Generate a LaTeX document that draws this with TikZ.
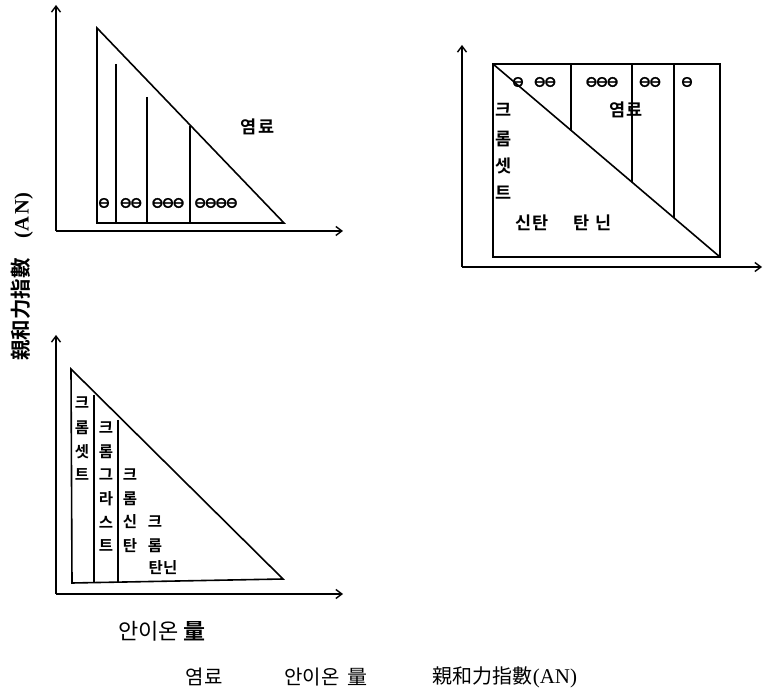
\documentclass[tikz,border=0pt]{standalone}
\usepackage{fontspec}
\setmainfont{Liberation Serif}
\newfontfamily\kr{Noto Sans CJK KR}
\newfontfamily\krb{Noto Sans CJK KR Bold}
\newfontfamily\symf{DejaVu Sans}[FakeBold=1.5]
\usetikzlibrary{arrows.meta}
\begin{document}
\begin{tikzpicture}[x=1pt,y=-1pt,
  axis/.style={-{Straight Barb[length=6pt,width=9pt]}, line width=1.4pt},
  tri/.style={line width=1.6pt, line join=miter},
  sep/.style={line width=1.4pt},
  ion/.style={font=\symf\bfseries\fontsize{15}{15}\selectfont, inner sep=0pt},
  kl/.style={font=\krb\fontsize{17.5}{17.5}\selectfont, inner sep=0pt},
  ks/.style={font=\krb\fontsize{15.5}{15.5}\selectfont, inner sep=0pt},
  captext/.style={font=\kr\fontsize{20}{20}\selectfont, inner sep=0pt}]
\useasboundingbox (0,0) rectangle (764,692);

% ---------- panel 1 (top left)
\draw[axis] (56,231) -- (56,5);
\draw[axis] (56,231) -- (343,231);
\draw[tri] (97,28) -- (97,223) -- (284,223) -- cycle;
\draw[sep] (116,64) -- (116,223);
\draw[sep] (147,97) -- (147,223);
\draw[sep] (190,126) -- (190,223);
\node[ion] (a1) at (104,203) {⊖};
\node[ion] (a2) at (131,203) {⊖\hspace{-2pt}⊖};
\node[ion] (a3) at (168,203) {⊖\hspace{-2pt}⊖\hspace{-2pt}⊖};
\node[ion] (a4) at (216,203) {⊖\hspace{-2pt}⊖\hspace{-2pt}⊖\hspace{-2pt}⊖};
\node[kl] (dye1) at (258,127) {염\hspace{2pt}료};

% ---------- y label
\node[rotate=90, font=\krb\fontsize{20.5}{20.5}\selectfont, inner sep=0pt] (ylab) at (22,277) {親和力指數\hspace{20pt}{\rmfamily\bfseries (A\hspace{2pt}N)}};

% ---------- panel 2 (top right)
\draw[axis] (462,267) -- (462,45);
\draw[axis] (462,267) -- (762,267);
\draw[tri] (493,64) rectangle (720,257);
\draw[tri] (493,64) -- (720,257);
\draw[sep] (571,64) -- (571,131);
\draw[sep] (632,64) -- (632,182);
\draw[sep] (674,64) -- (674,218);
\node[ion] (b1) at (518,82) {⊖};
\node[ion] (b2) at (545,82) {⊖\hspace{-2pt}⊖};
\node[ion] (b3) at (602,82) {⊖\hspace{-2pt}⊖\hspace{-2pt}⊖};
\node[ion] (b4) at (650,82) {⊖\hspace{-2pt}⊖};
\node[ion] (b5) at (687,82) {⊖};
\node[kl] (dye2) at (626,110) {염료};
\node[kl] (c1) at (504,110) {크};
\node[kl] (c2) at (504,139) {롬};
\node[kl] (c3) at (504,166) {셋};
\node[kl] (c4) at (504,193) {트};
\node[kl] (st) at (532,223) {신탄};
\node[kl] (tn) at (593,223) {탄\hspace{6pt}닌};

% ---------- panel 3 (bottom left)
\draw[axis] (56,594) -- (56,335);
\draw[axis] (56,594) -- (343,594);
\draw[tri] (71,369) -- (72,583) -- (283,579) -- cycle;
\draw[sep] (94,395) -- (94,582);
\draw[sep] (118,420) -- (118,582);
% column 1
\node[ks] (p11) at (82,403) {크};
\node[ks] (p12) at (82,428) {롬};
\node[ks] (p13) at (82,452) {셋};
\node[ks] (p14) at (82,475) {트};
% column 2
\node[ks] (p21) at (106,428) {크};
\node[ks] (p22) at (106,452) {롬};
\node[ks] (p23) at (106,475) {그};
\node[ks] (p24) at (106,499) {라};
\node[ks] (p25) at (106,522) {스};
\node[ks] (p26) at (106,546) {트};
% column 3
\node[ks] (p31) at (130,475) {크};
\node[ks] (p32) at (130,499) {롬};
\node[ks] (p33) at (130,522) {신};
\node[ks] (p34) at (130,546) {탄};
% column 4
\node[ks] (p41) at (155,522) {크};
\node[ks] (p42) at (155,546) {롬};
\node[ks] (p43) at (163,568) {탄닌};
\node[font=\kr\fontsize{22}{22}\selectfont, inner sep=0pt] (xlab) at (162,631) {안이온\hspace{5pt}{\krb 量}};

% ---------- caption
\node[captext] (k1) at (204,677) {염료};
\node[captext] (k2) at (326,677) {안이온\hspace{8pt}量};
\node[captext] (k3) at (505,677) {親和力指數{\rmfamily\fontsize{21}{21}\selectfont(AN)}};
\end{tikzpicture}
\end{document}
